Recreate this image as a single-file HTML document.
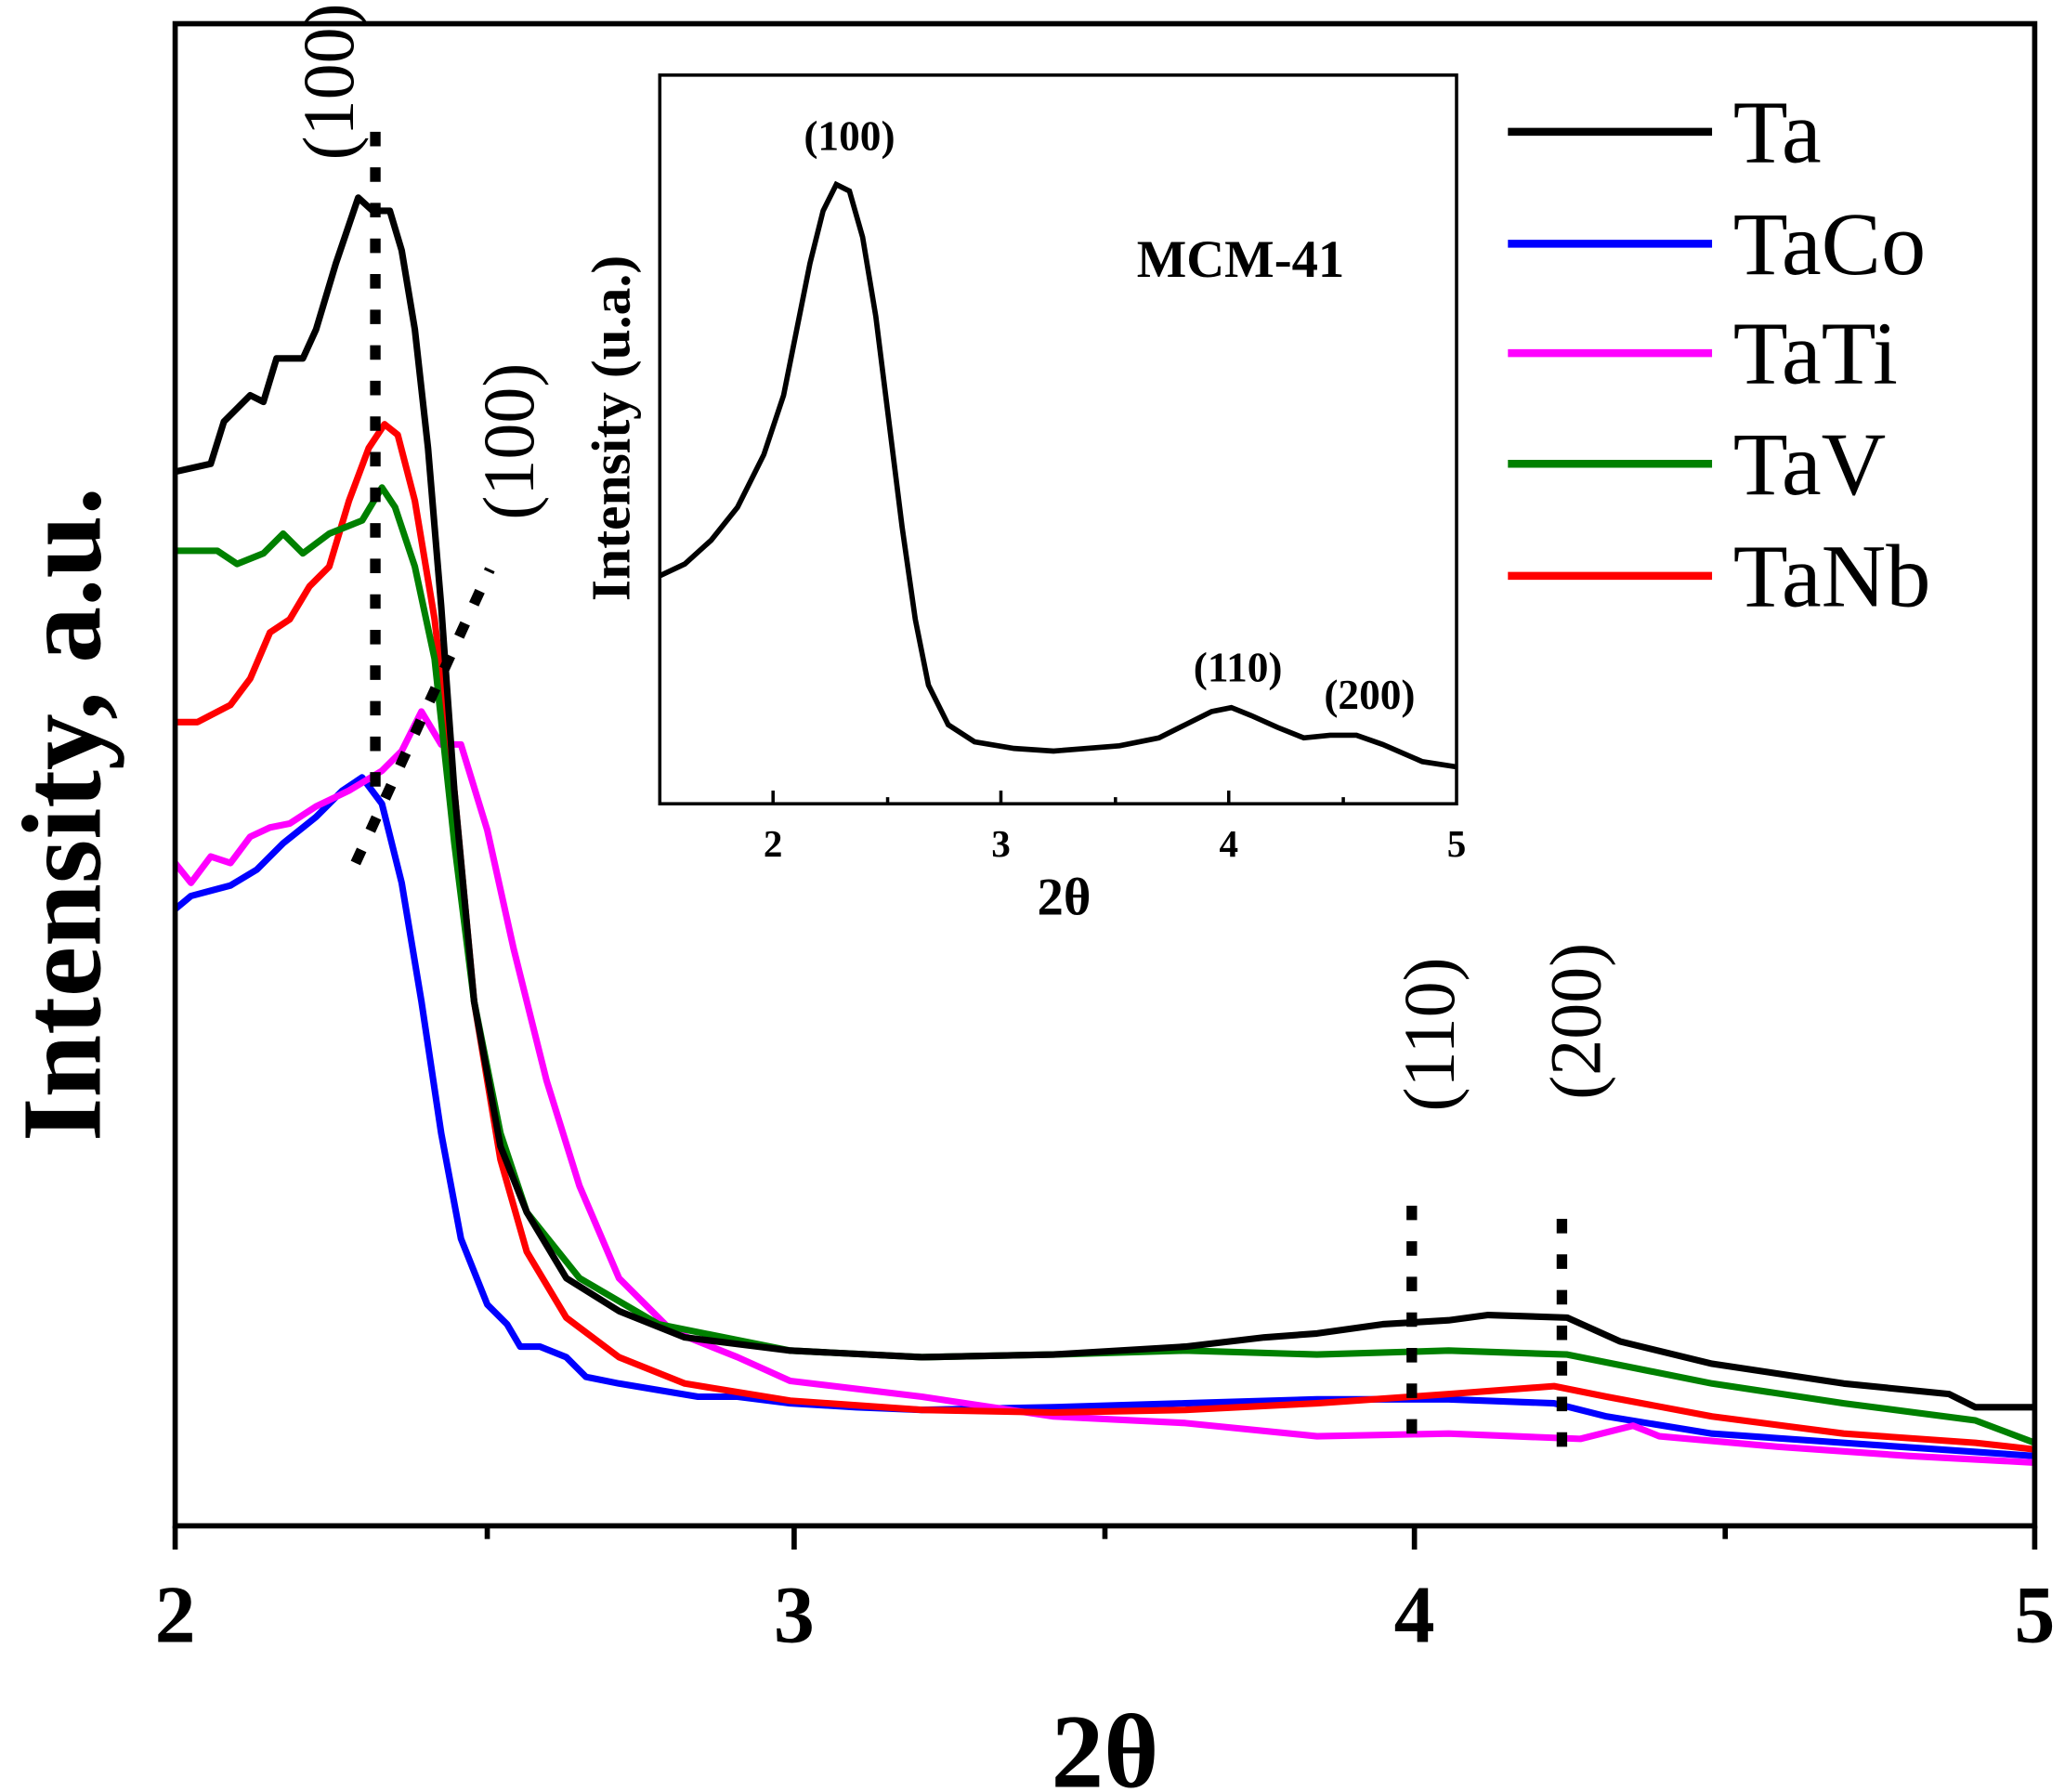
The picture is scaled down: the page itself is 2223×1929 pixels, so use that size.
<!DOCTYPE html>
<html><head><meta charset="utf-8"><style>html,body{margin:0;padding:0;background:#fff}svg{display:block}</style></head><body>
<svg width="2223" height="1929" viewBox="0 0 1568 1360" preserveAspectRatio="none" xmlns="http://www.w3.org/2000/svg" font-family="'Liberation Serif', serif">
<rect width="1568" height="1360" fill="#fff"/>
<g fill="none" stroke-width="5" stroke-linejoin="round">
<polyline stroke="#0000ff" points="133,690 145,680 160,676 175,672 195,660 215,640 240,620 260,600 275,590 290,610 305,670 320,760 335,860 350,940 370,990 385,1005 395,1022 410,1022 430,1030 445,1045 470,1050 500,1055 530,1060 560,1060 600,1065 650,1068 700,1070 800,1068 900,1065 1000,1062 1100,1062 1180,1065 1220,1075 1300,1088 1400,1095 1545,1105"/>
<polyline stroke="#ff00ff" points="133,655 145,670 160,650 175,655 190,635 205,628 220,625 240,612 265,600 290,585 305,570 320,540 335,565 350,565 370,630 390,720 415,820 440,900 470,970 510,1010 560,1030 600,1048 700,1060 800,1075 900,1080 1000,1090 1100,1088 1200,1092 1240,1082 1260,1090 1350,1098 1450,1105 1545,1110"/>
<polyline stroke="#ff0000" points="133,548 150,548 175,535 190,515 205,480 220,470 235,445 250,430 265,380 280,340 292,322 302,330 315,380 330,470 345,600 360,760 380,880 400,950 430,1000 470,1030 520,1050 600,1063 700,1070 800,1072 900,1070 1000,1065 1100,1058 1180,1052 1220,1060 1300,1075 1400,1088 1500,1095 1545,1100"/>
<polyline stroke="#008000" points="133,418 165,418 180,428 200,420 215,405 230,420 250,405 275,395 290,370 300,385 315,430 330,500 345,640 360,760 380,860 400,920 440,970 500,1005 600,1025 700,1030 800,1028 900,1025 1000,1028 1100,1025 1190,1028 1250,1040 1300,1050 1400,1065 1500,1078 1545,1095"/>
<polyline stroke="#000000" points="133,358 160,352 170,320 190,300 200,305 210,272 230,272 240,250 255,200 272,150 283,160 296,160 305,190 315,250 325,340 335,460 345,600 360,760 380,870 400,920 430,970 470,995 520,1015 600,1025 700,1030 800,1028 900,1022 960,1015 1000,1012 1050,1005 1100,1002 1130,998 1190,1000 1230,1018 1300,1035 1400,1050 1480,1058 1500,1068 1545,1068"/>
</g>
<g stroke="#000" stroke-width="8" stroke-dasharray="11,16" fill="none">
<line x1="285" y1="100" x2="285" y2="610"/>
<line x1="270" y1="655" x2="372" y2="432"/>
<line x1="1072" y1="915" x2="1072" y2="1098"/>
<line x1="1186" y1="925" x2="1186" y2="1108"/>
</g>
<rect x="133" y="18" width="1412" height="1140" fill="none" stroke="#000" stroke-width="4"/>
<g stroke="#000" stroke-width="4">
<line x1="133" y1="1158" x2="133" y2="1176"/><line x1="370" y1="1158" x2="370" y2="1168"/>
<line x1="603" y1="1158" x2="603" y2="1176"/><line x1="839" y1="1158" x2="839" y2="1168"/>
<line x1="1074" y1="1158" x2="1074" y2="1176"/><line x1="1310" y1="1158" x2="1310" y2="1168"/>
<line x1="1545" y1="1158" x2="1545" y2="1176"/>
</g>
<g font-weight="bold" font-size="62" text-anchor="middle">
<text x="133" y="1246">2</text><text x="603" y="1246">3</text><text x="1074" y="1246">4</text><text x="1545" y="1246">5</text>
<text x="839" y="1356" font-size="80">2θ</text>
<text transform="translate(76,618) rotate(-90)" font-size="86">Intensity, a.u.</text>
</g>
<g font-size="55" text-anchor="middle">
<text transform="translate(268,62) rotate(-90)">(100)</text>
<text transform="translate(405,335) rotate(-90)">(100)</text>
<text transform="translate(1104,785) rotate(-90)">(110)</text>
<text transform="translate(1215,775) rotate(-90)">(200)</text>
</g>
<g stroke-width="6">
<line x1="1145" y1="100" x2="1300" y2="100" stroke="#000"/>
<line x1="1145" y1="185" x2="1300" y2="185" stroke="#0000ff"/>
<line x1="1145" y1="268" x2="1300" y2="268" stroke="#ff00ff"/>
<line x1="1145" y1="352" x2="1300" y2="352" stroke="#008000"/>
<line x1="1145" y1="437" x2="1300" y2="437" stroke="#ff0000"/>
</g>
<g font-size="68">
<text x="1316" y="123">Ta</text><text x="1316" y="208">TaCo</text><text x="1316" y="291">TaTi</text><text x="1316" y="375">TaV</text><text x="1316" y="460">TaNb</text>
</g>
<rect x="501" y="57" width="605" height="553" fill="none" stroke="#000" stroke-width="2.5"/>
<g stroke="#000" stroke-width="2.5">
<line x1="587" y1="610" x2="587" y2="600"/><line x1="674" y1="610" x2="674" y2="605"/>
<line x1="760" y1="610" x2="760" y2="600"/><line x1="847" y1="610" x2="847" y2="605"/>
<line x1="933" y1="610" x2="933" y2="600"/><line x1="1020" y1="610" x2="1020" y2="605"/>
</g>
<polyline fill="none" stroke="#000" stroke-width="4" points="501,437 520,428 540,410 560,385 580,345 595,300 605,250 615,200 625,160 635,140 645,145 655,180 665,240 675,320 685,400 695,470 705,520 720,550 740,563 770,568 800,570 850,566 880,560 900,550 920,540 935,537 950,543 970,552 990,560 1010,558 1030,558 1050,565 1080,578 1106,582"/>
<g font-weight="bold" text-anchor="middle">
<g font-size="29"><text x="587" y="650">2</text><text x="760" y="650">3</text><text x="933" y="650">4</text><text x="1106" y="650">5</text></g>
<text x="808" y="694" font-size="40">2θ</text>
<text transform="translate(478,325) rotate(-90)" font-size="42">Intensity (u.a.)</text>
<text x="942" y="210" font-size="40">MCM-41</text>
<g font-size="32"><text x="645" y="114">(100)</text><text x="940" y="517">(110)</text><text x="1040" y="538">(200)</text></g>
</g>
</svg>
</body></html>
